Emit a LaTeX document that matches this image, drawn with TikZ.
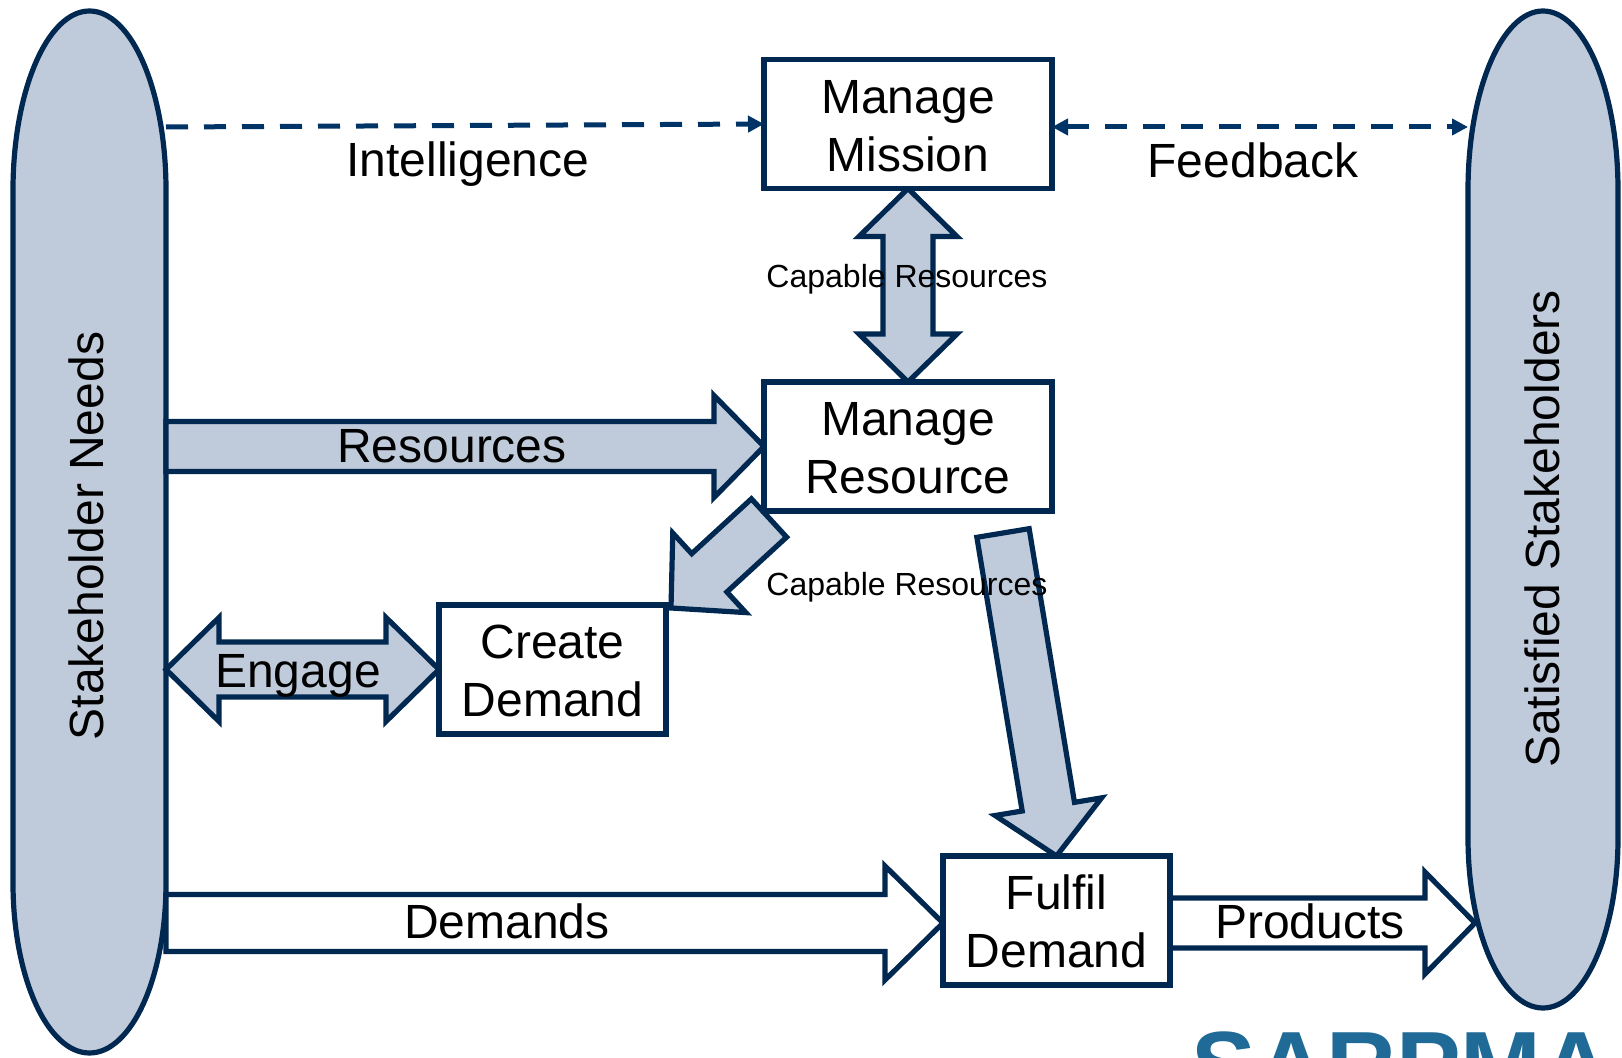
\documentclass[tikz,border=0pt]{standalone}
\usepackage{fontspec}
\setmainfont{Liberation Sans}
\usepackage{xcolor}
\usetikzlibrary{arrows.meta,calc,backgrounds}
\definecolor{navy}{HTML}{002850}
\definecolor{dashnavy}{HTML}{003366}
\definecolor{slate}{HTML}{BFCBDA}
\definecolor{logoblue}{HTML}{1F6A96}
\newcommand{\boxtop}{\rule{0pt}{18.3pt}}
\tikzset{
  box/.style={
    draw=navy, line width=2.6pt, fill=white, outer sep=0pt, inner sep=0pt,
    align=center, font=\fontsize{24}{29}\selectfont, minimum height=64.5pt
  },
  side/.style={
    rotate=90, minimum width=1000, outer sep=0pt, inner sep=0pt,
    font=\fontsize{24}{28}\selectfont
  },
  big label/.style={font=\fontsize{24}{28}\selectfont, inner sep=0pt},
  small label/.style={font=\fontsize{16}{19}\selectfont, inner sep=0pt},
  oval/.style={draw=navy, line width=2.6pt, fill=slate},
  feed/.style={
    draw=dashnavy, line width=2.5pt, dash pattern=on 11pt off 8pt,
    >={Triangle[length=8pt,width=8pt]}
  },
  block/.style={draw=navy, line width=2.6pt, fill=slate},
  hollow/.style={draw=navy, line width=2.6pt, fill=white},
  one way/.style n args={3}{
    to path={
      ($(\tikztostart)!#1!90:(\tikztotarget)$)
      -- ($($(\tikztotarget)!#3!(\tikztostart)$)!#1!90:(\tikztotarget)$)
      -- ($($(\tikztotarget)!#3!(\tikztostart)$)!#2!90:(\tikztotarget)$)
      -- (\tikztotarget)
      -- ($($(\tikztotarget)!#3!(\tikztostart)$)!#2!-90:(\tikztotarget)$)
      -- ($($(\tikztotarget)!#3!(\tikztostart)$)!#1!-90:(\tikztotarget)$)
      -- ($(\tikztostart)!#1!-90:(\tikztotarget)$)
      -- cycle
    }
  },
  two way/.style n args={3}{
    line join=round,
    to path={
      (\tikztostart)
      -- ($($(\tikztostart)!#3!(\tikztotarget)$)!#2!90:(\tikztotarget)$)
      -- ($($(\tikztostart)!#3!(\tikztotarget)$)!#1!90:(\tikztotarget)$)
      -- ($($(\tikztotarget)!#3!(\tikztostart)$)!#1!90:(\tikztotarget)$)
      -- ($($(\tikztotarget)!#3!(\tikztostart)$)!#2!90:(\tikztotarget)$)
      -- (\tikztotarget)
      -- ($($(\tikztotarget)!#3!(\tikztostart)$)!#2!-90:(\tikztotarget)$)
      -- ($($(\tikztotarget)!#3!(\tikztostart)$)!#1!-90:(\tikztotarget)$)
      -- ($($(\tikztostart)!#3!(\tikztotarget)$)!#1!-90:(\tikztotarget)$)
      -- ($($(\tikztostart)!#3!(\tikztotarget)$)!#2!-90:(\tikztotarget)$)
      -- cycle
    }
  }
}
\begin{document}
\begin{tikzpicture}[x=0.5pt,y=-0.5pt]
    \useasboundingbox (0,0) rectangle (1622,1058);

    \node[box, minimum width=144pt] (mission) at (908,124) {\boxtop Manage\\Mission};
    \node[box, minimum width=144pt] (resource) at (908,446.5) {\boxtop Manage\\Resource};
    \node[box, minimum width=113.5pt] (create) at (552.5,669.5) {\boxtop Create\\Demand};
    \node[box, minimum width=113.5pt] (fulfil) at (1056.5,920.5) {\boxtop Fulfil\\Demand};
    \node[side, minimum height=80pt] (needs) at (86,536) {Stakeholder Needs};
    \node[side, minimum height=74pt] (satisfied) at (1542,529) {Satisfied Stakeholders};

    \coordinate (needsint) at (needs.south |- 0,127);
    \coordinate (feedleft) at (mission.east |- needsint);
    \coordinate (feedright) at (satisfied.north |- needsint);
    \coordinate (needsres) at (needs.south |- resource.west);
    \coordinate (needseng) at (needs.south |- create.west);
    \coordinate (satprod) at (1475,923);
    \coordinate (needsdem) at (needs.south |- satprod);
    \coordinate (fulfilin) at (fulfil.west |- satprod);
    \coordinate (fulfilout) at (fulfil.east |- satprod);
    \coordinate (rescreate) at ([shift={(5,7)}]resource.south west);
    \coordinate (createres) at ([shift={(5,3)}]create.north east);
    \coordinate (resfulfil) at (1003,533);

    \begin{scope}[on background layer]
        \draw[oval] (13,190) arc[start angle=180,end angle=360,x radius=76.5,y radius=179]
            -- (166,883) arc[start angle=0,end angle=180,x radius=76.5,y radius=170] -- cycle;
        \draw[oval] (1468,190) arc[start angle=180,end angle=360,x radius=75,y radius=179]
            -- (1618,838) arc[start angle=0,end angle=180,x radius=75,y radius=170] -- cycle;

        \path[block] (mission.south) to[two way={12.5pt}{24.5pt}{24pt}] (resource.north);
        \path[block] (needseng) to[two way={13.75pt}{26pt}{26.5pt}] (create.west);
        \path[block] (needsres) to[one way={12.5pt}{25.5pt}{25pt}] (resource.west);
        \path[block] (rescreate) to[one way={13pt}{27pt}{26pt}] (createres);
        \path[block] (resfulfil) to[one way={13.25pt}{27pt}{25pt}] (fulfil.north);
        \path[hollow] (needsdem) to[one way={14.25pt}{28.5pt}{29pt}] (fulfilin);
        \path[hollow] (fulfilout) to[one way={12.5pt}{25.5pt}{25pt}] (satprod);
    \end{scope}

    \draw[feed,->] (needsint) -- (mission.west);
    \draw[feed,<->] (feedleft) -- (feedright);

    \node[big label] (intelligence) at (468,164) {Intelligence};
    \node[big label] (feedback) at (1253,160) {Feedback};
    \node[small label] (capabletop) at (907,279) {Capable Resources};
    \node[small label] (capablelow) at (907,587) {Capable Resources};
    \node[big label] (resources) at (452,446) {Resources};
    \node[big label] (engage) at (298,676) {Engage};
    \node[big label] (demands) at (507,921) {Demands};
    \node[big label] (products) at (1310,921) {Products};
    \node[anchor=base west, inner sep=0pt, text=logoblue, font=\fontsize{48.5}{50}\selectfont\bfseries] (logo) at (1191,1099) {SARPMA};
\end{tikzpicture}
\end{document}
